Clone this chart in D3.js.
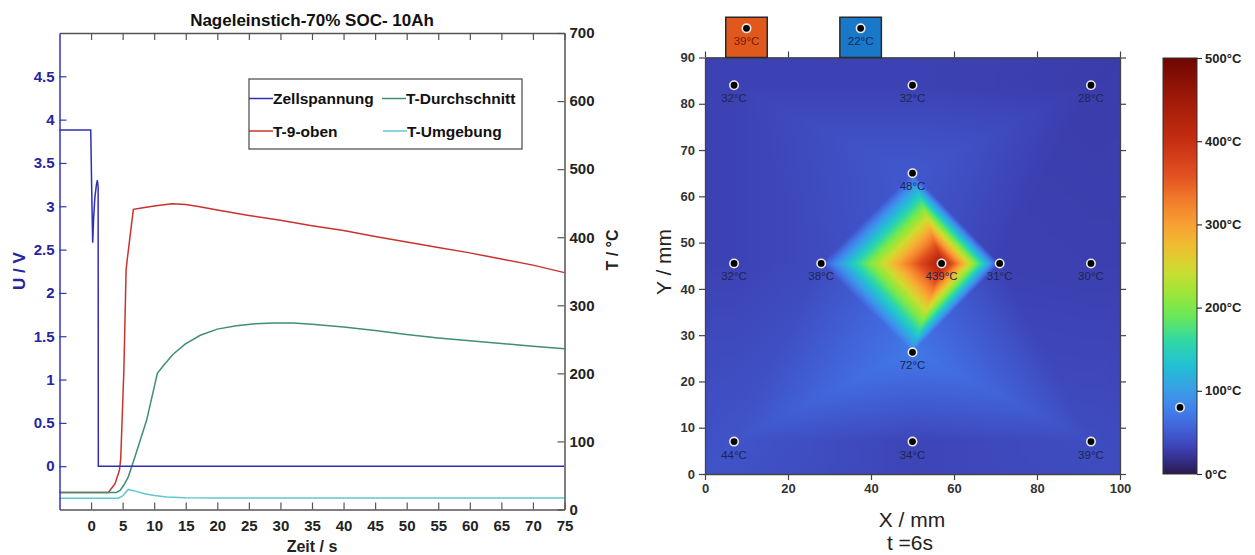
<!DOCTYPE html>
<html><head><meta charset="utf-8">
<script src="https://cdn.jsdelivr.net/npm/d3@7"></script>
<style>body{margin:0;background:#fff;} svg{display:block;font-family:"Liberation Sans",Arial,sans-serif;}</style>
</head><body><svg id="c" width="1255" height="555"></svg>
<script>
// ---------- DATA: left chart ----------
const timeVoltage = [-5, -0.05, 0.1, 0.26, 0.4, 0.6, 0.85, 1.0, 1.12, 1.15, 75];
const voltage     = [3.88, 3.88, 3.2, 2.58, 2.85, 3.1, 3.25, 3.3, 3.22, 0, 0];
const timeTop  = [-5, 2.75, 3.8, 4.5, 4.7, 5.2, 5.55, 5.7, 6.7, 8, 10, 12.8, 15, 17, 20, 25, 30, 35, 40, 45, 50, 55, 60, 65, 70, 75];
const tempTop  = [25, 25, 38, 58, 75, 205, 352, 365, 441, 443, 446, 449, 448, 445, 440, 432, 425, 417, 410, 401, 393, 385, 377, 368, 359, 348];
const timeAvg  = [-5, 4.0, 4.6, 5.2, 5.9, 6.8, 7.8, 8.8, 10.5, 11.5, 13, 14.9, 17.3, 20, 23, 26, 29, 32, 35, 40, 45, 50, 55, 60, 65, 70, 75];
const tempAvg  = [25, 25, 28, 36, 48, 73, 102, 131, 200, 212, 228, 243, 256, 265, 270, 273, 274, 274, 272, 268, 263, 257, 252, 248, 244, 240, 236];
const timeAmb  = [-5, 4.3, 5.0, 5.9, 7, 8.5, 10, 12, 15, 20, 75];
const tempAmb  = [16.5, 16.5, 20, 29.5, 27, 23, 20.5, 18.5, 17.2, 17, 17];
const xTicks1  = [0,5,10,15,20,25,30,35,40,45,50,55,60,65,70,75];
const vTicks   = [0,0.5,1,1.5,2,2.5,3,3.5,4,4.5];
const tTicks   = [0,100,200,300,400,500,600,700];
const legendNames = ["Zellspannung","T-Durchschnitt","T-9-oben","T-Umgebung"];

// ---------- DATA: heat map ----------
const sensorX = [7, 50, 93, 7, 28, 57, 71, 93, 7, 50, 93, 50, 50];
const sensorY = [84, 84, 84, 45.5, 45.5, 45.5, 45.5, 45.5, 7, 7, 7, 65, 26.3];
const sensorT = [32, 32, 28, 32, 38, 439, 31, 30, 44, 34, 39, 48, 72];
const edgeX = [0, 50, 100, 0, 100, 0, 50, 100];
const edgeY = [0, 0, 0, 45.5, 45.5, 90, 90, 90];
const edgeT = [44, 34, 39, 32, 30, 32, 32, 28];
const extX = [10, 37.5];        // sensors outside the cell (boxes on top)
const extY = [96.3, 96.3];
const extT = [39, 22];
const hxTicks = [0,20,40,60,80,100];
const hyTicks = [0,10,20,30,40,50,60,70,80,90];
const cbTicks = [0,100,200,300,400,500];
const cbStops  = [0, 25, 40, 60, 80, 100, 130, 160, 190, 215, 245, 275, 300, 330, 360, 400, 450, 500];
const cbColors = ["#2a1a4e","#3a38a6","#3f4ec2","#4268de","#3f84ec","#3a9ce6","#22c0d4","#30d8a6","#6ae858","#9ae63a","#cedc30","#f0bc30","#f8a034","#f27a2a","#e05020","#c62e12","#a01a08","#6e0602"];

// ---------- SETUP ----------
const svg = d3.select("#c");
const FONT = '"Liberation Sans",Arial,sans-serif';
const cV = "#2f2fb0", cRed = "#c8332e", cGreen = "#3f8f70", cCyan = "#5ec8d0";

// ---------- LEFT CHART ----------
const x1 = d3.scaleLinear().domain([-5,75]).range([59.5,564.5]);
const yV = d3.scaleLinear().domain([-0.5,5]).range([509.5,33]);
const yT = d3.scaleLinear().domain([0,700]).range([509.5,33]);

const gL = svg.append("g");
const lineV = d3.line().x((d,i)=>x1(timeVoltage[i])).y(d=>yV(d));
const mk = (ts) => d3.line().x((d,i)=>x1(ts[i])).y(d=>yT(d));
gL.append("path").datum(tempAmb).attr("d", mk(timeAmb)).attr("fill","none").attr("stroke",cCyan).attr("stroke-width",1.5);
gL.append("path").datum(tempTop).attr("d", mk(timeTop)).attr("fill","none").attr("stroke",cRed).attr("stroke-width",1.5);
gL.append("path").datum(tempAvg).attr("d", mk(timeAvg)).attr("fill","none").attr("stroke",cGreen).attr("stroke-width",1.5);
gL.append("path").datum(voltage).attr("d", lineV).attr("fill","none").attr("stroke",cV).attr("stroke-width",1.5);

function styleAxis(g, col, txtCol, size){
  g.selectAll("path").attr("stroke",col).attr("stroke-width",1.5);
  g.selectAll("line").attr("stroke",col).attr("stroke-width",1.2);
  g.selectAll("text").attr("fill",txtCol).attr("font-size",size).attr("font-weight","bold").attr("font-family",FONT);
}
const plain = d => String(d);
const axB = gL.append("g").attr("transform","translate(0,509.5)")
  .call(d3.axisBottom(x1).tickValues(xTicks1).tickSizeInner(-7).tickSizeOuter(0).tickPadding(11).tickFormat(plain));
styleAxis(axB,"#555","#222",15);
const axTp = gL.append("g").attr("transform","translate(0,33)")
  .call(d3.axisTop(x1).tickValues(xTicks1).tickSizeInner(-7).tickSizeOuter(0).tickFormat(""));
styleAxis(axTp,"#555","#222",15);
const axR = gL.append("g").attr("transform","translate(564.5,0)")
  .call(d3.axisRight(yT).tickValues(tTicks).tickSizeInner(-7).tickSizeOuter(0).tickPadding(5).tickFormat(plain));
styleAxis(axR,"#555","#222",15);
const axLf = gL.append("g").attr("transform","translate(59.5,0)")
  .call(d3.axisLeft(yV).tickValues(vTicks).tickSizeInner(-7).tickSizeOuter(0).tickPadding(5).tickFormat(plain));
styleAxis(axLf,"#3434b4","#2626a0",15);

gL.append("text").attr("x",312).attr("y",26).attr("text-anchor","middle").attr("font-weight","bold")
  .attr("font-size",17).attr("fill","#111").text("Nageleinstich-70% SOC- 10Ah");
gL.append("text").attr("x",312).attr("y",552).attr("text-anchor","middle").attr("font-weight","bold")
  .attr("font-size",16).attr("fill","#222").text("Zeit / s");
gL.append("text").attr("transform","translate(25,271) rotate(-90)").attr("text-anchor","middle").attr("font-weight","bold")
  .attr("font-size",17).attr("fill","#2626a0").text("U / V");
gL.append("text").attr("transform","translate(618,250) rotate(-90)").attr("text-anchor","middle").attr("font-weight","bold")
  .attr("font-size",16).attr("fill","#222").text("T / °C");

// legend
const lg = gL.append("g");
lg.append("rect").attr("x",249).attr("y",79).attr("width",273).attr("height",70).attr("fill","#fff").attr("stroke","#555").attr("stroke-width",1.3);
const legCols = [cV, cGreen, cRed, cCyan];
const legPos = [[249,98.5],[382,98.5],[249,131],[383,131]];
legendNames.forEach((n,i)=>{
  const [lx,ly] = legPos[i];
  lg.append("line").attr("x1",lx).attr("x2",lx+24).attr("y1",ly).attr("y2",ly).attr("stroke",legCols[i]).attr("stroke-width",1.5);
  lg.append("text").attr("x",lx+24).attr("y",ly+5.5).attr("font-weight","bold").attr("font-size",15.5).attr("fill","#111").text(n);
});

// ---------- HEAT MAP ----------
const xH = d3.scaleLinear().domain([0,100]).range([705,1120]);
const yH = d3.scaleLinear().domain([0,90]).range([474,57.5]);
const color = d3.scaleLinear().domain(cbStops).range(cbColors).interpolate(d3.interpolateRgb).clamp(true);

const allX = sensorX.concat(edgeX), allY = sensorY.concat(edgeY), allT = sensorT.concat(edgeT);
const X0 = xH(0), Y0 = yH(90);
const W = Math.round(xH(100)-X0), H = Math.round(yH(0)-Y0);
const pts = allX.map((x,i)=>[xH(x)-X0, yH(allY[i])-Y0]);
const del = d3.Delaunay.from(pts);
const tri = del.triangles;
const canvas = document.createElement("canvas");
canvas.width = W; canvas.height = H;
const ctx = canvas.getContext("2d");
const img = ctx.createImageData(W,H);
const filled = new Uint8Array(W*H);
for (let t=0;t<tri.length;t+=3){
  const a=tri[t], b=tri[t+1], c=tri[t+2];
  const [ax,ay]=pts[a], [bx,by]=pts[b], [cx,cy]=pts[c];
  const det=(by-cy)*(ax-cx)+(cx-bx)*(ay-cy);
  if (Math.abs(det)<1e-9) continue;
  const mnx=Math.max(0,Math.floor(Math.min(ax,bx,cx))-1), mxx=Math.min(W-1,Math.ceil(Math.max(ax,bx,cx))+1);
  const mny=Math.max(0,Math.floor(Math.min(ay,by,cy))-1), mxy=Math.min(H-1,Math.ceil(Math.max(ay,by,cy))+1);
  for (let py=mny; py<=mxy; py++){
    for (let px=mnx; px<=mxx; px++){
      const X=px+0.5, Y=py+0.5;
      const l1=((by-cy)*(X-cx)+(cx-bx)*(Y-cy))/det;
      const l2=((cy-ay)*(X-cx)+(ax-cx)*(Y-cy))/det;
      const l3=1-l1-l2;
      if (l1>=-0.02 && l2>=-0.02 && l3>=-0.02){
        const idx=py*W+px;
        if (filled[idx] && (l1<0||l2<0||l3<0)) continue;
        const v=l1*allT[a]+l2*allT[b]+l3*allT[c];
        const col=d3.rgb(color(v));
        const k=idx*4;
        img.data[k]=col.r; img.data[k+1]=col.g; img.data[k+2]=col.b; img.data[k+3]=255;
        filled[idx]=1;
      }
    }
  }
}
ctx.putImageData(img,0,0);
const gH = svg.append("g");
gH.append("image").attr("x",X0).attr("y",Y0).attr("width",W).attr("height",H)
  .attr("preserveAspectRatio","none").attr("href",canvas.toDataURL());

// axes
function styleH(g){
  g.selectAll("path").attr("stroke","#444").attr("stroke-width",1.3);
  g.selectAll("line").attr("stroke","#444").attr("stroke-width",1.2);
  g.selectAll("text").attr("fill","#333").attr("font-size",13).attr("font-weight","bold").attr("font-family",FONT);
}
styleH(gH.append("g").attr("transform",`translate(0,${yH(0)})`).call(d3.axisBottom(xH).tickValues(hxTicks).tickSizeInner(6).tickSizeOuter(0).tickPadding(4).tickFormat(plain)));
styleH(gH.append("g").attr("transform",`translate(0,${yH(90)})`).call(d3.axisTop(xH).tickValues(hxTicks).tickSizeInner(6).tickSizeOuter(0).tickFormat("")));
styleH(gH.append("g").attr("transform",`translate(${xH(0)},0)`).call(d3.axisLeft(yH).tickValues(hyTicks).tickSizeInner(6).tickSizeOuter(0).tickPadding(4).tickFormat(plain)));
styleH(gH.append("g").attr("transform",`translate(${xH(100)},0)`).call(d3.axisRight(yH).tickValues(hyTicks).tickSizeInner(6).tickSizeOuter(0).tickFormat("")));

gH.append("text").attr("x",912).attr("y",527).attr("text-anchor","middle").attr("font-size",21).attr("fill","#222").text("X / mm");
gH.append("text").attr("x",910).attr("y",550).attr("text-anchor","middle").attr("font-size",21).attr("fill","#222").text("t =6s");
gH.append("text").attr("transform","translate(671,262) rotate(-90)").attr("text-anchor","middle").attr("font-size",21).attr("fill","#222").text("Y / mm");

// external sensor boxes
const boxW = 10, boxTop = 98.7;
const boxFill = ["#e0581c", "#1a78c8"];
extX.forEach((x,i)=>{
  gH.append("rect").attr("x",xH(x-boxW/2)).attr("y",yH(boxTop)).attr("width",xH(x+boxW/2)-xH(x-boxW/2))
    .attr("height",yH(90)-yH(boxTop)).attr("fill",boxFill[i]).attr("stroke","#2a2a2a").attr("stroke-width",1.5);
});

// sensor dots + labels
function dot(g,cx,cy){
  g.append("circle").attr("cx",cx).attr("cy",cy).attr("r",4.2).attr("fill","#000").attr("stroke","#e8e8e8").attr("stroke-width",1.6);
}
sensorX.forEach((x,i)=>{
  dot(gH,xH(x),yH(sensorY[i]));
  gH.append("text").attr("x",xH(x)).attr("y",yH(sensorY[i])+17).attr("text-anchor","middle")
    .attr("font-size",11.5).attr("fill","#1c2650").text(sensorT[i]+"°C");
});
extX.forEach((x,i)=>{
  dot(gH,xH(x),yH(extY[i]));
  gH.append("text").attr("x",xH(x)).attr("y",yH(extY[i])+17).attr("text-anchor","middle")
    .attr("font-size",11.5).attr("fill", i===0?"#7a1a0a":"#0a2a60").text(extT[i]+"°C");
});

// colorbar
const cb = d3.scaleLinear().domain([0,500]).range([474,58]);
const defs = svg.append("defs");
const grad = defs.append("linearGradient").attr("id","cbg").attr("x1",0).attr("y1",1).attr("x2",0).attr("y2",0);
d3.range(0,501,10).forEach(v=>grad.append("stop").attr("offset",v/500).attr("stop-color",color(v)));
gH.append("rect").attr("x",1163).attr("y",cb(500)).attr("width",34).attr("height",cb(0)-cb(500))
  .attr("fill","url(#cbg)").attr("stroke","#333").attr("stroke-width",1);
const axCb = gH.append("g").attr("transform","translate(1197,0)")
  .call(d3.axisRight(cb).tickValues(cbTicks).tickSizeInner(5).tickSizeOuter(0).tickPadding(3).tickFormat(d=>d+"°C"));
axCb.select("path").remove();
axCb.selectAll("line").attr("stroke","#333").attr("stroke-width",1.2);
axCb.selectAll("text").attr("fill","#222").attr("font-size",13).attr("font-weight","bold").attr("font-family",FONT);
dot(gH,1180,cb(80));
</script></body></html>
